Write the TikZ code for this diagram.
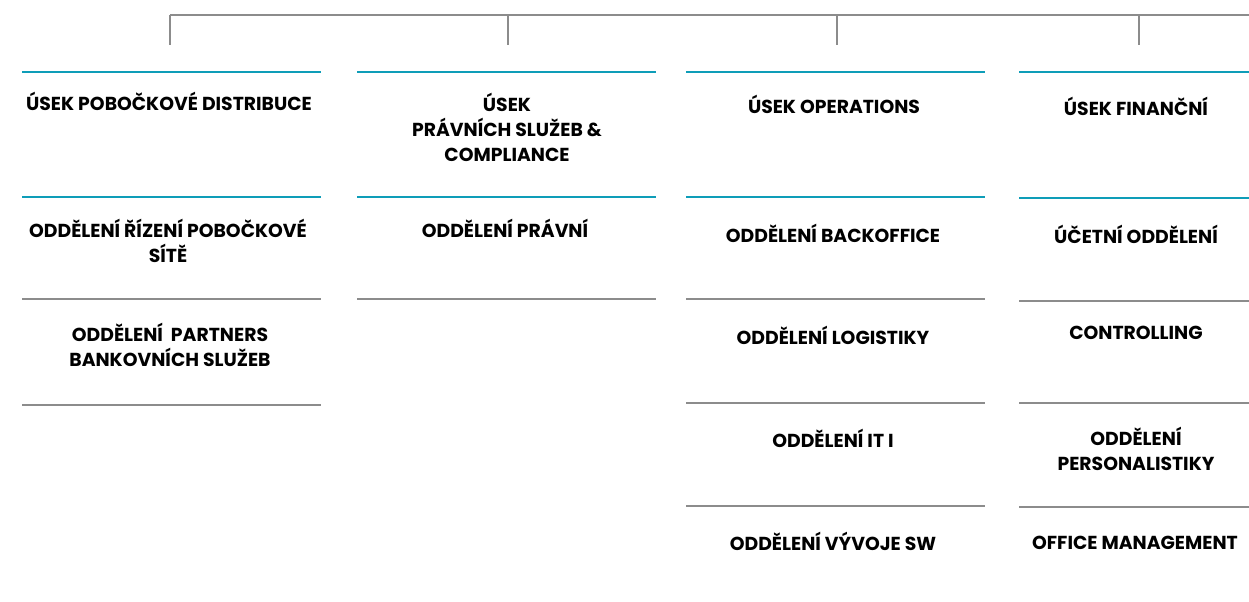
\documentclass[tikz,border=0pt]{standalone}
\usepackage{fontspec}
\setmainfont{Poppins}
\usepackage{xcolor}
\usetikzlibrary{positioning}
\definecolor{teal}{HTML}{0E9DB8}
\definecolor{linegray}{HTML}{8C8C8C}

\begin{document}
\begin{tikzpicture}[x=0.75pt, y=-0.75pt]

\tikzset{lbl/.style={align=center, inner sep=0pt, font=\fontsize{14.1}{18.8}\selectfont\bfseries}}
\tikzset{tline/.style={draw=teal, line width=2.1pt}}
\tikzset{gline/.style={draw=linegray, line width=2.1pt}}
\tikzset{conn/.style={draw=linegray, line width=1.8pt}}

\useasboundingbox (0,0) rectangle (1249,601);

% Klammer oben
\coordinate (k0) at (1249,15);
\foreach \x/\n in {170/1,508/2,837/3,1139/4}{
	\coordinate (t\n) at (\x,15);
	\coordinate (b\n) at (\x,45);
}
\draw[conn] (t1) -- (k0);
\foreach \n in {1,...,4}
	\draw[conn] (t\n) -- (b\n);

% Linien Spalte 1
\draw[tline] (22,72) -- (321,72);
\draw[tline] (22,197) -- (321,197);
\foreach \y in {299,405}
	\draw[gline] (22,\y) -- (321,\y);

% Linien Spalte 2
\draw[tline] (357,72) -- (656,72);
\draw[tline] (357,197) -- (656,197);
\draw[gline] (357,299) -- (656,299);

% Linien Spalte 3
\draw[tline] (686,72) -- (985,72);
\draw[tline] (686,197) -- (985,197);
\foreach \y in {299,403,506}
	\draw[gline] (686,\y) -- (985,\y);

% Linien Spalte 4
\draw[tline] (1019,72) -- (1249,72);
\draw[tline] (1019,198) -- (1249,198);
\foreach \y in {301,403,507}
	\draw[gline] (1019,\y) -- (1249,\y);

% Texte
\node[lbl] (u1) at (169,101) {ÚSEK POBOČKOVÉ DISTRIBUCE};
\node[lbl] (u2) at (507,127) {ÚSEK\\PRÁVNÍCH SLUŽEB \&\\COMPLIANCE};
\node[lbl] (u3) at (834,104) {ÚSEK OPERATIONS};
\node[lbl] (u4) at (1136,106) {ÚSEK FINANČNÍ};

\node[lbl] (o11) at (168,241) {ODDĚLENÍ ŘÍZENÍ POBOČKOVÉ\\SÍTĚ};
\node[lbl] (o12) at (170,345) {ODDĚLENÍ\ \ PARTNERS\\BANKOVNÍCH SLUŽEB};

\node[lbl] (o21) at (505,228) {ODDĚLENÍ PRÁVNÍ};

\node[lbl] (o31) at (833,233) {ODDĚLENÍ BACKOFFICE};
\node[lbl] (o32) at (833,335) {ODDĚLENÍ LOGISTIKY};
\node[lbl] (o33) at (833,438) {ODDĚLENÍ IT I};
\node[lbl] (o34) at (833,541) {ODDĚLENÍ VÝVOJE SW};

\node[lbl] (o41) at (1136,234) {ÚČETNÍ ODDĚLENÍ};
\node[lbl] (o42) at (1136,333) {CONTROLLING};
\node[lbl] (o43) at (1136,449) {ODDĚLENÍ\\PERSONALISTIKY};
\node[lbl] (o44) at (1135,543) {OFFICE MANAGEMENT};

\end{tikzpicture}
\end{document}
